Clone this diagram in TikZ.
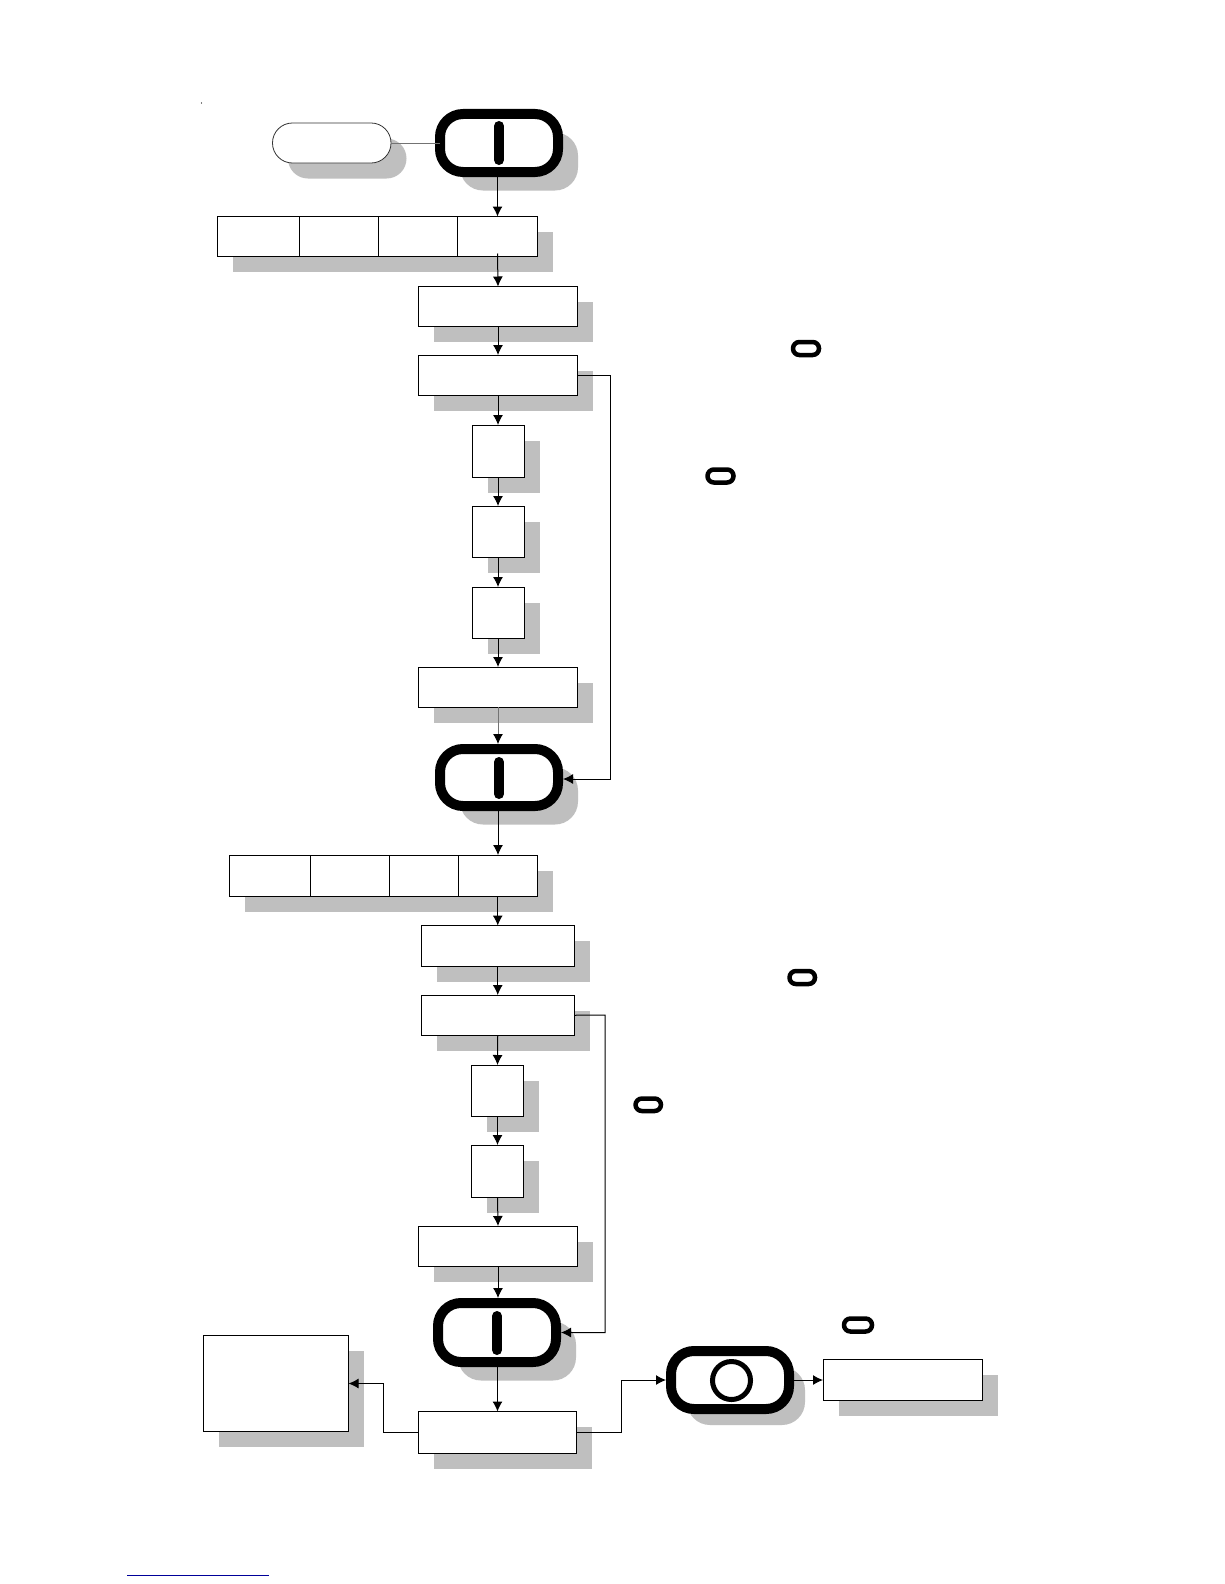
\documentclass[tikz,border=0pt]{standalone}
\usetikzlibrary{arrows.meta,shadows,calc}
\definecolor{shgray}{gray}{0.75}
\tikzset{
  boxshadow/.style={general shadow={shadow xshift=15.5pt,shadow yshift=-15.5pt,fill=shgray}},
  flowbox/.style={draw=black,fill=white,line width=1pt,inner sep=0pt,outer sep=0pt,boxshadow},
  softpill/.style={draw=black!80,fill=white,line width=0.8pt,inner sep=0pt,outer sep=0pt,rounded corners=19.9pt,boxshadow},
  pillbase/.style={draw=black,fill=white,line width=10pt,inner sep=0pt,outer sep=0pt,rounded corners=23pt},
  thickpill/.style={pillbase,general shadow={shadow xshift=20pt,shadow yshift=-18.5pt,fill=shgray}},
  ringpill/.style={pillbase,general shadow={shadow xshift=16pt,shadow yshift=-16pt,fill=shgray}},
  notepill/.style={draw=black,fill=white,line width=4.5pt,inner sep=0pt,outer sep=0pt,rounded corners=6.4pt},
  barmark/.style={draw=black,line width=10pt,line cap=round},
  ringmark/.style={circle,draw=black,fill=white,line width=5pt,inner sep=0pt,outer sep=0pt,minimum size=38pt},
  link/.style={draw=black,line width=1pt,-{Latex[length=10pt,width=10pt,black]}},
  intopill/.style={link,shorten >=5pt},
  frompill/.style={link,shorten <=5pt},
}
\newcommand{\placebox}[6]{%
  \pgfmathsetmacro{\cxv}{(#3+#5)/2}\pgfmathsetmacro{\cyv}{(#4+#6)/2}%
  \pgfmathsetmacro{\wv}{#5-#3}\pgfmathsetmacro{\hv}{#6-#4}%
  \node[#1,minimum width=\wv pt,minimum height=\hv pt] (#2) at (\cxv,\cyv) {};}
\begin{document}
\begin{tikzpicture}[x=1pt,y=-1pt]
\useasboundingbox (0,0) rectangle (1224,1584);
\fill[white] (0,0) rectangle (1224,1584);
% top
\placebox{softpill}{start}{272.5}{123}{391}{163}
\placebox{thickpill}{pa}{440}{114}{558}{172}
\draw[black!55,line width=1pt] (start.east) -- (pa.west);
\draw[barmark] (499,126) -- (499,160);
\placebox{flowbox}{ra}{217.5}{216.5}{299.5}{256.5}
\placebox{flowbox}{rb}{299.5}{216.5}{378.5}{256.5}
\placebox{flowbox}{rc}{378.5}{216.5}{457.5}{256.5}
\placebox{flowbox}{rd}{457.5}{216.5}{537.5}{256.5}
\placebox{flowbox}{ba}{418.5}{286.5}{577.5}{326.5}
\placebox{flowbox}{bb}{418.5}{355}{577.5}{395}
\placebox{flowbox}{sa}{472}{425}{524}{477.5}
\placebox{flowbox}{sb}{472}{506}{524}{557.5}
\placebox{flowbox}{sc}{472}{587}{524}{638.5}
\placebox{flowbox}{bc}{418.5}{667}{577.5}{707}
\placebox{thickpill}{pb}{440}{749}{558}{806}
\draw[barmark] (499,762) -- (499,794);
% middle
\placebox{flowbox}{ta}{229.5}{855}{310}{896}
\placebox{flowbox}{tb}{310}{855}{389}{896}
\placebox{flowbox}{tc}{389}{855}{458.5}{896}
\placebox{flowbox}{td}{458.5}{855}{537.5}{896}
\placebox{flowbox}{bd}{421}{925.5}{574.5}{966.5}
\placebox{flowbox}{be}{421}{995}{574.5}{1035.5}
\placebox{flowbox}{se}{471.5}{1065}{523.5}{1116}
\placebox{flowbox}{sf}{471.5}{1145}{523.5}{1197}
\placebox{flowbox}{bf}{418.5}{1226}{577.5}{1266}
\placebox{thickpill}{pc}{438}{1303}{556}{1362}
\draw[barmark] (497,1316) -- (497,1350);
% bottom
\placebox{flowbox}{big}{203.5}{1335.5}{348.5}{1431.5}
\placebox{flowbox}{bg}{418.5}{1411.5}{576.5}{1453}
\placebox{ringpill}{pd}{671}{1351}{789}{1409}
\node[ringmark] (ring) at (731.5,1380.5) {};
\placebox{flowbox}{bh}{823}{1359.5}{982.5}{1400.5}
% note pills
\placebox{notepill}{na}{793}{342}{819}{355}
\placebox{notepill}{nb}{707.5}{469.5}{733.5}{482.5}
\placebox{notepill}{nc}{789.5}{971}{815}{984}
\placebox{notepill}{nd}{635.5}{1098.5}{661}{1111}
\placebox{notepill}{ne}{844}{1318.5}{872}{1331.5}
% connectors
\draw[frompill] (pa.south -| rd.north) -- (rd.north);
\draw[link] ([yshift=3pt]rd.south) -- (ba.north);
\draw[link] (ba.south) -- (bb.north);
\draw[link] (bb.south) -- (sa.north);
\draw[link] (sa.south) -- (sb.north);
\draw[link] (sb.south) -- (sc.north);
\draw[link] (sc.south) -- (bc.north);
\draw[intopill,draw=black!55] (bc.south) -- (pb.north -| bc.south);
\draw[frompill] (pb.south -| td.north) -- (td.north);
\draw[link] (td.south -| bd.north) -- (bd.north);
\draw[link] (bd.south) -- (be.north);
\draw[link] (be.south) -- (se.north);
\draw[link] (se.south) -- (sf.north);
\draw[link] (sf.south) -- (bf.north);
\draw[intopill] (bf.south) -- (pc.north -| bf.south);
\draw[frompill] (pc.south -| bg.north) -- (bg.north);
\coordinate (ja) at (610.5,375);
\coordinate (jb) at (605,1015);
\draw[intopill] (bb.east) -- (ja) |- ([yshift=-1.5pt]pb.east);
\draw[intopill] (be.east) -- (jb) |- (pc.east);
\draw[link] (bg.west) -| (383.5,1383.5) -- (big.east);
\draw[intopill] (bg.east) -| (621.5,1380) -- (pd.west);
\draw[frompill] (pd.east) -- (bh.west);
% small marks
\fill[black] (201.5,103) circle (0.6);
\coordinate (ula) at (127,1575.5);
\coordinate (ulb) at (269,1575.5);
\draw[blue!60!black,line width=1pt] (ula) -- (ulb);
\end{tikzpicture}
\end{document}
